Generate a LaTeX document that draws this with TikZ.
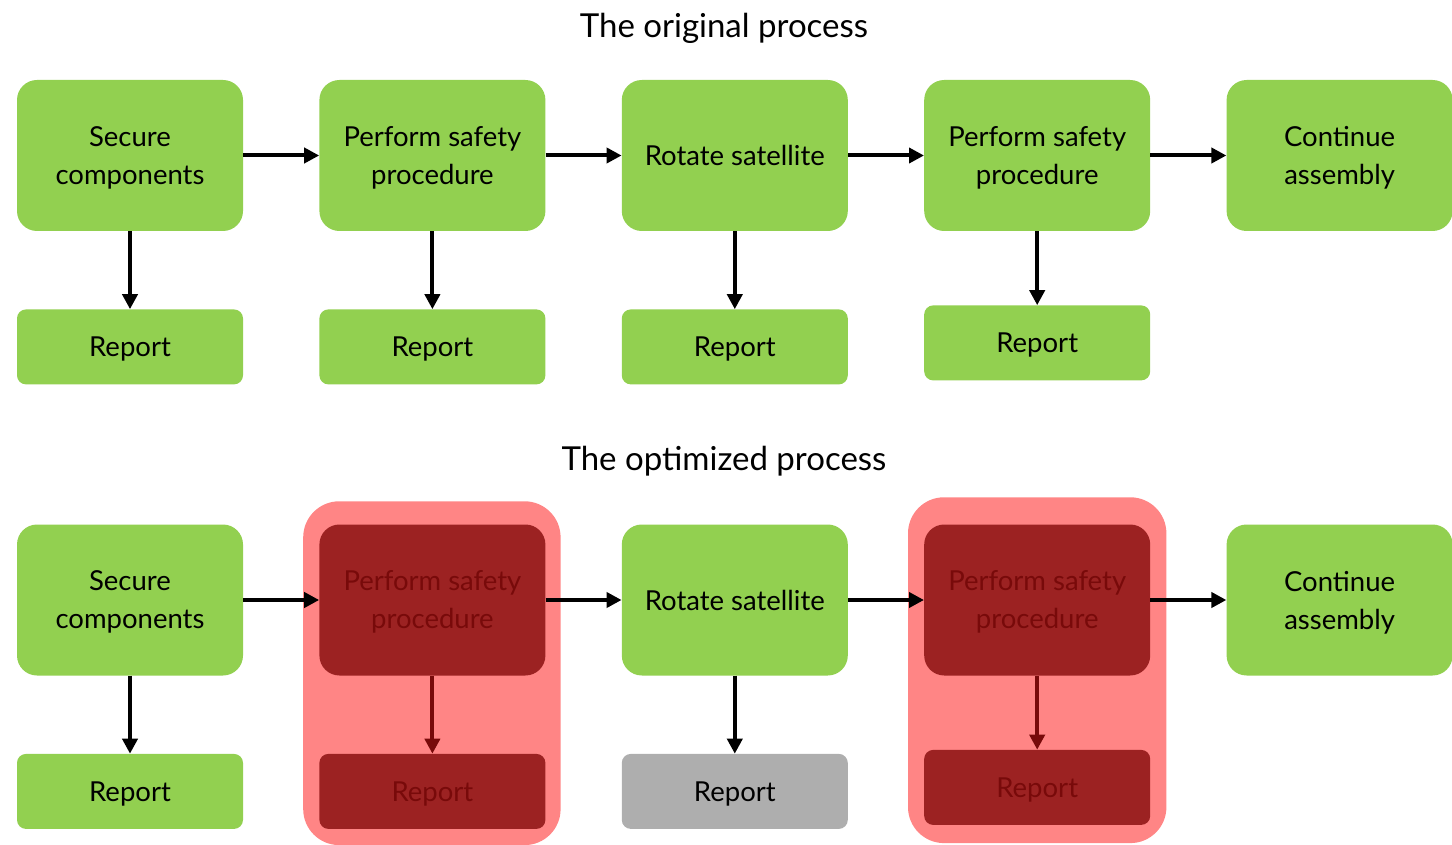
\documentclass[tikz,border=0pt]{standalone}
\usepackage{fontspec}
\setmainfont{Lato}
\usetikzlibrary{arrows.meta,positioning,calc,backgrounds}
\definecolor{stepgreen}{HTML}{92D050}
\definecolor{cutred}{HTML}{9C2222}
\definecolor{cuttext}{HTML}{780A0A}
\definecolor{cutbg}{HTML}{FF8585}
\definecolor{skipgray}{HTML}{AEAEAE}
\tikzset{
  stepbox/.style={fill=stepgreen,rounded corners=20pt,minimum width=226pt,minimum height=151pt,
    align=center,inner sep=0pt,text depth=0pt,font=\fontsize{27.5}{38}\selectfont},
  repbox/.style={stepbox,rounded corners=9pt,minimum height=75pt},
  cutbox/.style={fill=cutred,text=cuttext},
  ttl/.style={font=\fontsize{33}{38}\selectfont},
  ar/.style={-{Triangle[length=15pt,width=15pt]},line width=4pt},
  cutar/.style={ar,draw=cuttext},
}
\begin{document}
\begin{tikzpicture}[x=1pt,y=-1pt,node distance=76pt]
\useasboundingbox (0,0) rectangle (1452,845);
% original process
\node[ttl] (t1) at (724,28) {The original process};
\node[stepbox] (s1) at (130,155.5) {Secure\\components};
\node[stepbox,right=of s1] (s2) {Perform safety\\procedure};
\node[stepbox,right=of s2] (s3) {Rotate satellite};
\node[stepbox,right=of s3] (s4) {Perform safety\\procedure};
\node[stepbox,right=of s4] (s5) {Continue\\assembly};
\node[repbox,below=78pt of s1] (r1) {Report};
\node[repbox,below=78pt of s2] (r2) {Report};
\node[repbox,below=78pt of s3] (r3) {Report};
\node[repbox,below=74pt of s4] (r4) {Report};
\foreach \a/\b in {s1/s2,s2/s3,s3/s4,s4/s5,s1/r1,s2/r2,s3/r3,s4/r4}
  \draw[ar] (\a) -- (\b);
% optimized process
\node[ttl] (t2) at (724,461) {The optimized process};
\node[stepbox] (o1) at (130,600) {Secure\\components};
\node[stepbox,cutbox,right=of o1] (o2) {Perform safety\\procedure};
\node[stepbox,right=of o2] (o3) {Rotate satellite};
\node[stepbox,cutbox,right=of o3] (o4) {Perform safety\\procedure};
\node[stepbox,right=of o4] (o5) {Continue\\assembly};
\node[repbox,below=78pt of o1] (q1) {Report};
\node[repbox,cutbox,below=78pt of o2] (q2) {Report};
\node[repbox,fill=skipgray,below=78pt of o3] (q3) {Report};
\node[repbox,cutbox,below=74pt of o4] (q4) {Report};
\begin{scope}[on background layer]
  \fill[cutbg,rounded corners=36pt] ($(o2.north west)+(-16,-23)$) rectangle ($(q2.south east)+(15,16)$);
  \fill[cutbg,rounded corners=36pt] ($(o4.north west)+(-16,-27)$) rectangle ($(q4.south east)+(16,18)$);
\end{scope}
\foreach \a/\b in {o1/o2,o2/o3,o3/o4,o4/o5,o1/q1,o3/q3}
  \draw[ar] (\a) -- (\b);
\draw[cutar] (o2) -- (q2);
\draw[cutar] (o4) -- (q4);
\end{tikzpicture}
\end{document}
